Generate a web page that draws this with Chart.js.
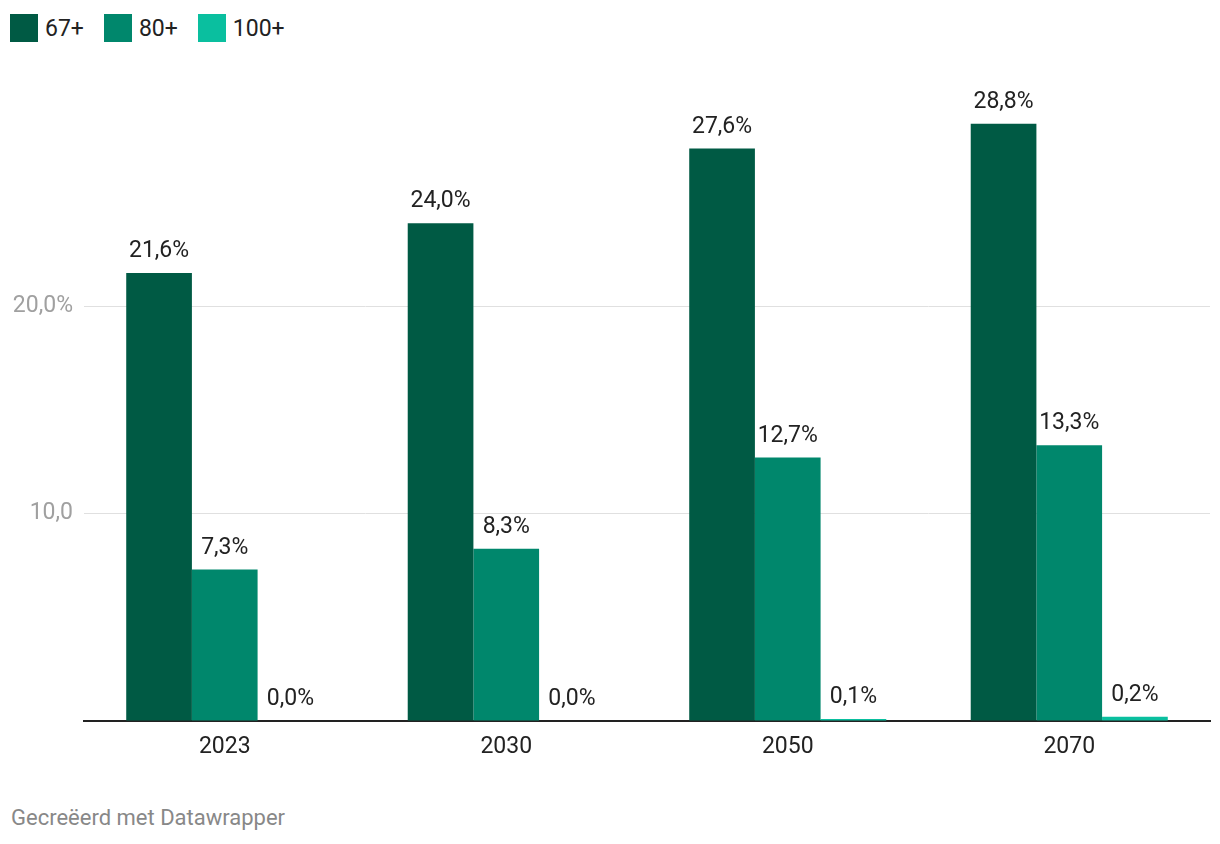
<!DOCTYPE html>
<html>
<head>
<meta charset="utf-8">
<script src="https://cdn.jsdelivr.net/npm/chart.js@4/dist/chart.umd.min.js"></script>
<style>
  body { margin: 0; background: #fff; font-family: Roboto, sans-serif; }
  #page { position: relative; width: 1220px; height: 844px; overflow: hidden; }
  #legend { position: absolute; left: 10px; top: 14px; display: flex; align-items: center; font-size: 23px; color: #222; }
  #legend span.item { display: flex; align-items: center; margin-right: 20px; }
  #legend i { display: inline-block; width: 28px; height: 28px; margin-right: 7px; }
  #holder { position: absolute; left: 0; top: 74px; width: 1220px; height: 706px; }
  #footer { position: absolute; left: 11px; top: 805px; font-size: 22px; color: #888; }
</style>
</head>
<body>
<div id="page">
  <div id="legend"></div>
  <div id="holder"><canvas id="chart"></canvas></div>
  <div id="footer">Gecreëerd met Datawrapper</div>
</div>
<script>
// data
const years = ["2023", "2030", "2050", "2070"];
const seriesNames = ["67+", "80+", "100+"];
const share67 = [21.6, 24.0, 27.6, 28.8];
const share80 = [7.3, 8.3, 12.7, 13.3];
const share100 = [0.0, 0.0, 0.1, 0.2];
const yTicks = [10, 20];

const colors = ["#005a44", "#00876c", "#0abf9f"];

// legend
const legend = document.getElementById("legend");
seriesNames.forEach((name, i) => {
  const item = document.createElement("span");
  item.className = "item";
  item.innerHTML = `<i style="background:${colors[i]}"></i>${name}`;
  legend.appendChild(item);
});

function fmt(v) {
  return v.toFixed(1).replace(".", ",");
}

// value labels above bars
const valueLabels = {
  id: "valueLabels",
  afterDatasetsDraw(chart) {
    const ctx = chart.ctx;
    ctx.save();
    ctx.font = "23px Roboto";
    ctx.fillStyle = "#222";
    ctx.textAlign = "center";
    ctx.textBaseline = "alphabetic";
    chart.data.datasets.forEach((ds, di) => {
      chart.getDatasetMeta(di).data.forEach((bar, i) => {
        ctx.fillText(fmt(ds.data[i]) + "%", bar.x, bar.y - 16);
      });
    });
    ctx.restore();
  }
};

const holder = document.getElementById("chart");
new Chart(holder, {
  type: "bar",
  data: {
    labels: years,
    datasets: [
      { label: seriesNames[0], data: share67, backgroundColor: colors[0] },
      { label: seriesNames[1], data: share80, backgroundColor: colors[1] },
      { label: seriesNames[2], data: share100, backgroundColor: colors[2] },
    ],
  },
  options: {
    responsive: true,
    maintainAspectRatio: false,
    animation: false,
    datasets: { bar: { categoryPercentage: 0.7, barPercentage: 1, borderWidth: 0 } },
    layout: { padding: { left: 0, right: 10, top: 14, bottom: 0 } },
    plugins: {
      legend: { display: false },
      tooltip: { enabled: false },
    },
    scales: {
      x: {
        grid: { display: false, drawTicks: false },
        border: { display: true, color: "#222", width: 2 },
        ticks: { color: "#222", font: { family: "Roboto", size: 23 }, padding: 12 },
        afterFit(scale) { scale.height = 59; },
      },
      y: {
        min: 0,
        max: 30,
        afterBuildTicks(scale) {
          scale.ticks = [0, ...yTicks, 30].map((v) => ({ value: v }));
        },
        grid: {
          drawTicks: false,
          color: (c) => (yTicks.includes(c.tick.value) ? "#e0e0e0" : "rgba(0,0,0,0)"),
          lineWidth: 1,
        },
        border: { display: false },
        ticks: {
          color: "#a0a0a0",
          font: { family: "Roboto", size: 23 },
          padding: 11,
          callback: (v) => (v === 20 ? "20,0%" : v === 10 ? "10,0" : ""),
        },
        afterFit(scale) { scale.width = 84; },
      },
    },
  },
  plugins: [valueLabels],
});
</script>
</body>
</html>
